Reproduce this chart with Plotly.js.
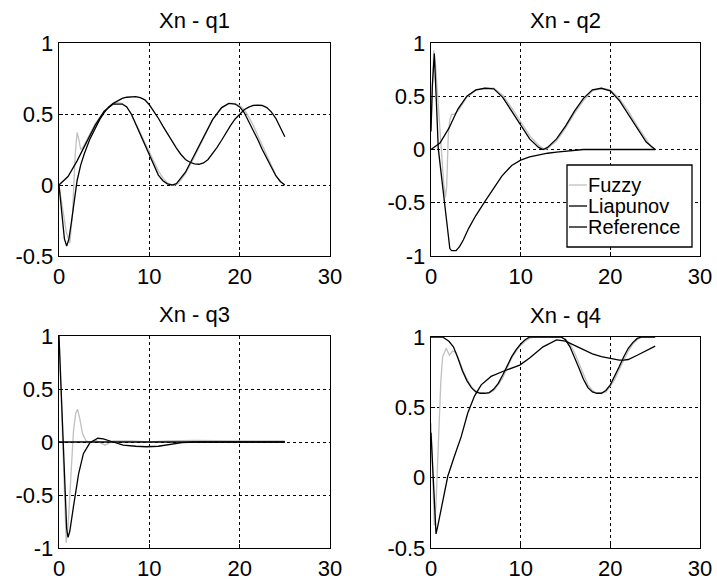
<!DOCTYPE html>
<html>
<head>
<meta charset="utf-8">
<script src="https://cdn.plot.ly/plotly-3.0.1.min.js"></script>
<style>html,body{margin:0;padding:0;background:#fff;}#chart{width:717px;height:585px;}</style>
</head>
<body>
<div id="chart"></div>
<script>
// ---------- data ----------
const titles = ["Xn - q1", "Xn - q2", "Xn - q3", "Xn - q4"];
const seriesNames = ["Fuzzy", "Liapunov", "Reference"];
const xTicks = [0, 10, 20, 30];
const xTickText = ["0", "10", "20", "30"];
const yTicksA = [-0.5, 0, 0.5, 1];
const yTickTextA = ["-0.5", "0", "0.5", "1"];
const yTicksB = [-1, -0.5, 0, 0.5, 1];
const yTickTextB = ["-1", "-0.5", "0", "0.5", "1"];

// q1
const q1FuzzyX = [0,0.4,0.8,1.2,1.5,1.8,2.0,2.2,2.4,2.7,3,3.5,4,5,6,6.5,7,7.5,8,8.5,9,9.5,10,10.5,11,11.5,12,12.5,12.8,13.2,14,15,16,17,18,18.8,19.5,20,20.5,21,21.5,22,22.5,23,23.5,24,24.5,25];
const q1FuzzyY = [0,-0.15,-0.33,-0.41,-0.2,0.22,0.37,0.32,0.25,0.27,0.31,0.37,0.43,0.52,0.57,0.58,0.575,0.55,0.5,0.44,0.37,0.3,0.23,0.16,0.1,0.05,0.015,0.0,0.0,0.01,0.08,0.2,0.33,0.46,0.54,0.575,0.575,0.56,0.53,0.48,0.42,0.35,0.28,0.2,0.13,0.07,0.025,0.0];
const q1LiapX = [0,0.3,0.6,0.85,1.1,1.4,1.7,2.0,2.4,2.8,3.4,4,4.5,5,5.5,6,6.5,7,7.5,8,8.5,9,9.5,10,10.5,11,11.5,12,12.5,13,13.5,14,14.5,15,15.5,16,16.5,17,17.5,18,18.5,19,19.5,20,20.5,21,21.5,22,22.5,23,23.5,24,24.5,25];
const q1LiapY = [0,-0.2,-0.38,-0.43,-0.38,-0.25,-0.1,0.03,0.14,0.22,0.32,0.4,0.46,0.51,0.55,0.575,0.595,0.61,0.618,0.622,0.622,0.615,0.6,0.565,0.52,0.47,0.415,0.36,0.31,0.26,0.215,0.18,0.16,0.148,0.146,0.155,0.18,0.22,0.265,0.315,0.37,0.42,0.465,0.5,0.53,0.548,0.56,0.563,0.56,0.545,0.515,0.47,0.41,0.34];
const q1RefX = [0,1,2,3,4,5,6,7,7.5,8,8.5,9,9.5,10,10.5,11,11.5,12,12.5,13,14,15,16,17,18,18.8,19.5,20,20.5,21,21.5,22,22.5,23,23.5,24,24.5,25];
const q1RefY = [0,0.06,0.17,0.3,0.42,0.52,0.57,0.57,0.55,0.5,0.43,0.36,0.29,0.21,0.14,0.07,0.03,0.008,0,0.01,0.09,0.21,0.34,0.46,0.545,0.575,0.57,0.55,0.51,0.45,0.39,0.32,0.25,0.19,0.12,0.065,0.025,0];

// q2
const q2FuzzyX = [0,0.15,0.3,0.5,0.8,1.1,1.4,1.6,1.75,1.93,2.1,2.3,2.6,3,3.5,4,5,6,7,8,9,10,11,12,12.7,13,14,15,16,17,18,19,20,21,22,23,24,24.6,25];
const q2FuzzyY = [0.2,0.7,0.93,0.8,0.4,0.0,-0.3,-0.45,-0.35,0.14,0.28,0.33,0.33,0.36,0.43,0.49,0.555,0.575,0.575,0.51,0.39,0.26,0.13,0.04,0,0.01,0.08,0.2,0.34,0.46,0.55,0.575,0.56,0.48,0.36,0.22,0.09,0.02,0];
const q2LiapX = [0,0.15,0.37,0.5,0.65,0.81,1.0,1.2,1.4,1.7,1.95,2.1,2.3,2.8,3.2,3.6,4.2,5,6,7,7.9,9,10,11,12,13,14,15,16,17,20,25];
const q2LiapY = [0.17,0.6,0.9,0.7,0.35,0.01,-0.13,-0.28,-0.43,-0.65,-0.85,-0.93,-0.95,-0.95,-0.91,-0.85,-0.74,-0.62,-0.49,-0.37,-0.25,-0.15,-0.1,-0.07,-0.05,-0.035,-0.025,-0.018,-0.01,0,0,0];
const q2RefX = [0,1,2,3,4,5,6,7,8,9,10,11,12,12.5,13,14,15,16,17,18,19,20,21,22,23,24,25];
const q2RefY = [0,0.06,0.2,0.38,0.5,0.56,0.575,0.57,0.49,0.36,0.23,0.1,0.02,0,0.02,0.1,0.22,0.36,0.48,0.56,0.575,0.55,0.46,0.33,0.19,0.07,0];

// q3
const q3FuzzyX = [0,0.2,0.45,0.65,0.8,1.0,1.3,1.6,1.85,2.05,2.3,2.6,3.0,3.4,4,5.1,6,8,10,12,15,18,20,25];
const q3FuzzyY = [1,0.5,-0.2,-0.75,-0.95,-0.8,-0.3,0.1,0.27,0.31,0.22,0.08,0.01,0.0,0.02,-0.03,0.01,0.01,0.0,0.01,0.015,0.01,0.01,0.01];
const q3LiapX = [0,0.2,0.48,0.7,0.85,1.0,1.2,1.6,2.17,2.7,3.4,4.3,4.9,6,7.1,8.5,9.7,11,11.9,13,13.6,15,25];
const q3LiapY = [1,0.6,0.02,-0.55,-0.82,-0.9,-0.84,-0.61,-0.3,-0.11,-0.01,0.035,0.03,0,-0.03,-0.04,-0.045,-0.04,-0.03,-0.012,-0.005,0,0];
const q3RefX = [0,5,10,15,20,25];
const q3RefY = [0,0,0,0,0,0];

// q4
const q4FuzzyX = [0,0.15,0.37,0.55,0.75,1.1,1.3,1.7,2.05,2.4,2.8,3.2,3.7,4.2,4.7,5.2,5.8,6.4,7,7.5,8,8.5,9,9.5,10,10.5,11,11.5,14.5,15,15.5,16,16.5,17,17.5,18,18.5,19,19.5,20,20.5,21,21.5,22,22.5,23,23.5,25];
const q4FuzzyY = [0.39,0.1,-0.34,-0.2,0.1,0.69,0.86,0.92,0.87,0.9,0.89,0.82,0.74,0.68,0.63,0.61,0.6,0.6,0.62,0.66,0.71,0.78,0.85,0.9,0.94,0.97,0.99,1,1,0.985,0.95,0.89,0.81,0.73,0.66,0.62,0.6,0.6,0.61,0.65,0.7,0.77,0.84,0.9,0.95,0.98,1,1];
const q4LiapX = [0,0.3,0.56,0.8,1.12,1.5,1.87,2.6,3.36,4.1,4.85,5.6,6.7,8.2,9.9,11,12.5,14,15,16,17,18,19,20,21,21.5,22,23,24,25];
const q4LiapY = [0.32,-0.1,-0.4,-0.33,-0.23,-0.1,0.01,0.15,0.29,0.46,0.58,0.66,0.72,0.76,0.8,0.85,0.93,0.98,0.97,0.94,0.91,0.88,0.86,0.845,0.835,0.835,0.84,0.87,0.9,0.935];
const q4RefX = [0,1.3,2,2.5,3,3.5,4,4.5,5,5.5,6,6.5,7,7.5,8,8.5,9,9.5,10,10.5,11,14.5,15,15.5,16,16.5,17,17.5,18,18.5,19,19.5,20,20.5,21,21.5,22,22.5,23,23.5,25];
const q4RefY = [1,1,0.97,0.93,0.85,0.76,0.69,0.64,0.61,0.6,0.6,0.605,0.63,0.67,0.73,0.8,0.86,0.91,0.95,0.98,1,1,0.98,0.93,0.86,0.78,0.7,0.64,0.61,0.6,0.6,0.62,0.66,0.72,0.79,0.86,0.92,0.96,0.99,1,1];

// ---------- drawing ----------
const FONT = "Liberation Sans, Arial, Helvetica, sans-serif";
const FS = 22;
const LFS = 20;
const GRAY = "#c0c0c0";
const LW = 1.3;

const panels = [
  {fx:q1FuzzyX, fy:q1FuzzyY, lx:q1LiapX, ly:q1LiapY, rx:q1RefX, ry:q1RefY},
  {fx:q2FuzzyX, fy:q2FuzzyY, lx:q2LiapX, ly:q2LiapY, rx:q2RefX, ry:q2RefY},
  {fx:q3FuzzyX, fy:q3FuzzyY, lx:q3LiapX, ly:q3LiapY, rx:q3RefX, ry:q3RefY},
  {fx:q4FuzzyX, fy:q4FuzzyY, lx:q4LiapX, ly:q4LiapY, rx:q4RefX, ry:q4RefY}
];

const W = 717, H = 585;
const boxes = [
  {l:59, r:330, t:43, b:256},
  {l:431, r:700, t:43, b:256},
  {l:59, r:330, t:336, b:548},
  {l:431, r:700, t:337, b:548}
];
const yr = [[-0.5,1],[-1,1],[-1,1],[-0.5,1]];
const yt = [[yTicksA,yTickTextA],[yTicksB,yTickTextB],[yTicksB,yTickTextB],[yTicksA,yTickTextA]];

const traces = [];
panels.forEach((p, i) => {
  const xa = i === 0 ? "x" : "x" + (i + 1);
  const ya = i === 0 ? "y" : "y" + (i + 1);
  traces.push({x:p.fx, y:p.fy, xaxis:xa, yaxis:ya, mode:"lines", name:seriesNames[0], line:{color:GRAY, width:LW}, showlegend:false, hoverinfo:"skip"});
  traces.push({x:p.lx, y:p.ly, xaxis:xa, yaxis:ya, mode:"lines", name:seriesNames[1], line:{color:"#000", width:LW}, showlegend:false, hoverinfo:"skip"});
  traces.push({x:p.rx, y:p.ry, xaxis:xa, yaxis:ya, mode:"lines", name:seriesNames[2], line:{color:"#000", width:LW}, showlegend:false, hoverinfo:"skip"});
});

const layout = {
  width: W, height: H,
  margin: {l:0, r:0, t:0, b:0},
  paper_bgcolor: "#fff", plot_bgcolor: "#fff",
  font: {family: FONT, size: FS, color: "#000"},
  showlegend: false,
  annotations: [],
  shapes: []
};

boxes.forEach((b, i) => {
  const sfx = i === 0 ? "" : String(i + 1);
  const common = {
    showgrid: true, gridcolor: "#000", gridwidth: 1, griddash: "dot",
    showline: true, linecolor: "#000", linewidth: LW, mirror: true,
    ticks: "inside", ticklen: 4, tickcolor: "#000", tickwidth: 1,
    zeroline: false, fixedrange: true,
    tickfont: {family: FONT, size: FS, color: "#000"}
  };
  layout["xaxis" + sfx] = Object.assign({}, common, {
    domain: [b.l / W, b.r / W], range: [0, 30],
    tickmode: "array", tickvals: xTicks, ticktext: xTickText,
    anchor: "y" + sfx, ticklabelstandoff: 0
  });
  layout["yaxis" + sfx] = Object.assign({}, common, {
    domain: [1 - b.b / H, 1 - b.t / H], range: yr[i],
    tickmode: "array", tickvals: yt[i][0], ticktext: yt[i][1],
    anchor: "x" + sfx, ticklabelstandoff: 0
  });
  layout.annotations.push({
    text: titles[i], xref: "paper", yref: "paper",
    x: (b.l + b.r) / 2 / W, y: 1 - (b.t - 22) / H,
    xanchor: "center", yanchor: "middle", showarrow: false,
    font: {family: FONT, size: FS, color: "#000"}
  });
});

// legend box inside q2 (MATLAB style)
const lg = {l:567, r:692, t:165, b:247};
layout.shapes.push({type:"rect", xref:"paper", yref:"paper", layer:"above",
  x0: lg.l / W, x1: lg.r / W, y0: 1 - lg.b / H, y1: 1 - lg.t / H,
  line:{color:"#000", width:LW}, fillcolor:"#fff"});
const rowY = [185, 206, 227];
const rowCol = [GRAY, "#000", "#000"];
seriesNames.forEach((nm, k) => {
  layout.shapes.push({type:"line", xref:"paper", yref:"paper", layer:"above",
    x0: 569 / W, x1: 587 / W, y0: 1 - rowY[k] / H, y1: 1 - rowY[k] / H,
    line:{color: rowCol[k], width: LW}});
  layout.annotations.push({text: nm, xref:"paper", yref:"paper",
    x: 587 / W, y: 1 - rowY[k] / H, xanchor:"left", yanchor:"middle",
    showarrow:false, borderpad:0,
    font:{family: FONT, size: LFS, color:"#000"}});
});

Plotly.newPlot("chart", traces, layout, {staticPlot: true, displayModeBar: false});
</script>
</body>
</html>
